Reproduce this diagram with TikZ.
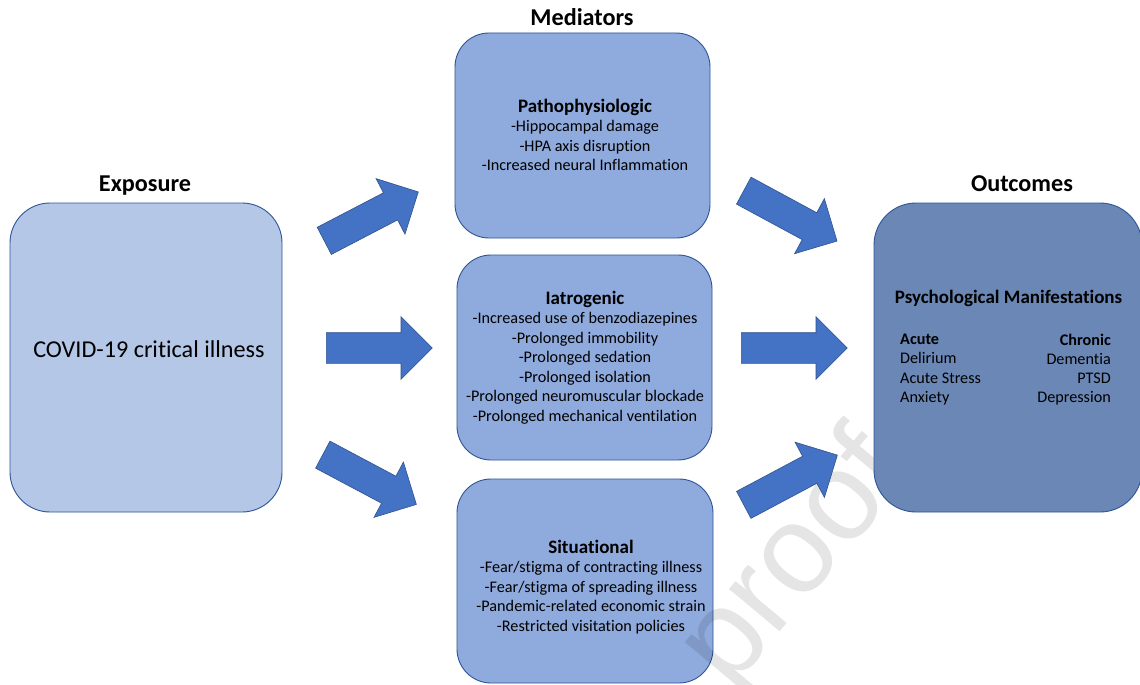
\documentclass[tikz,border=0pt]{standalone}
\usepackage{fontspec}
\setmainfont{Carlito}[Ligatures={NoCommon,NoContextual}]
\newfontfamily\wmfont{Liberation Sans}
\usetikzlibrary{shapes.arrows}
\definecolor{expfill}{HTML}{B4C7E7}
\definecolor{medfill}{HTML}{8FAADC}
\definecolor{outfill}{HTML}{6A87B6}
\definecolor{boxline}{HTML}{2F5597}
\definecolor{arrfill}{HTML}{4472C4}
\definecolor{arrline}{HTML}{2F528F}
\begin{document}
\begin{tikzpicture}[x=1pt,y=-1pt,
  box/.style={draw=boxline, line width=0.9pt, rounded corners=#1, inner sep=0pt},
  title/.style={font=\fontsize{24.2}{29}\selectfont\bfseries},
  body/.style={align=center, font=\fontsize{16.2}{19.5}\selectfont, inner sep=0pt},
  col/.style={font=\fontsize{16.2}{19.2}\selectfont, inner sep=0pt},
  head/.style={font=\fontsize{19}{22}\selectfont\bfseries},
  blockarrow/.style={single arrow, draw=arrline, fill=arrfill, line width=0.6pt,
    minimum height=106pt, inner xsep=0pt, inner ysep=15pt,
    single arrow head extend=16pt, anchor=tail}
]
\useasboundingbox (0,0) rectangle (1140,685);
\fill[white] (0,0) rectangle (1140,685);

% boxes
\node[box=40pt, fill=expfill, minimum width=272pt, minimum height=309pt] (exp) at (146,357.5) {};
\node[box=34pt, fill=medfill, minimum width=255pt, minimum height=205pt] (path) at (582.5,135.5) {};
\node[box=34pt, fill=medfill, minimum width=255pt, minimum height=205pt] (iatro) at (584.5,357.5) {};
\node[box=34pt, fill=medfill, minimum width=256pt, minimum height=204pt] (situ) at (585,581) {};

% watermark (under the outcomes box)
\node[rotate=50, text=black, text opacity=0.1, font=\wmfont\fontsize{125}{125}\selectfont] (wm) at (797,562) {proof};

\node[box=42pt, fill=outfill, minimum width=268pt, minimum height=309pt] (out) at (1008,357.5) {};

% titles
\node[title] (texp) at (145,186) {Exposure};
\node[title] (tmed) at (582,17) {Mediators};
\node[title] (tout) at (1022,184) {Outcomes};

% box texts
\node[font=\fontsize{24.2}{29}\selectfont] (covid) at (149,349) {COVID-19 critical illness};
\node[body] (pathtxt) at (585,135) {{\fontsize{19}{22}\selectfont\bfseries Pathophysiologic}\\-Hippocampal damage\\-HPA axis disruption\\-Increased neural Inflammation};
\node[body] (iatrotxt) at (585,357.5) {{\fontsize{19}{22}\selectfont\bfseries Iatrogenic}\\-Increased use of benzodiazepines\\-Prolonged immobility\\-Prolonged sedation\\-Prolonged isolation\\-Prolonged neuromuscular blockade\\-Prolonged mechanical ventilation};
\node[body] (situtxt) at (591,587) {{\fontsize{19}{22}\selectfont\bfseries Situational}\\-Fear/stigma of contracting illness\\-Fear/stigma of spreading illness\\-Pandemic-related economic strain\\-Restricted visitation policies};
\node[head] (psy) at (1008.5,298) {Psychological Manifestations};
\node[col, align=left, anchor=west] (acute) at (900,369.5) {\textbf{Acute}\\Delirium\\Acute Stress\\Anxiety};
\node[col, align=right, anchor=east] (chronic) at (1111,369.5) {\textbf{Chronic}\\Dementia\\PTSD\\Depression};

% block arrows
\coordinate (t1) at (324,241);
\coordinate (t2) at (326,348);
\coordinate (t3) at (322.5,454.5);
\coordinate (t4) at (743.5,190.5);
\coordinate (t5) at (741,348);
\coordinate (t6) at (743.5,505);
\node[blockarrow, rotate=27.5] (a1) at (t1) {};
\node[blockarrow] (a2) at (t2) {};
\node[blockarrow, rotate=-28] (a3) at (t3) {};
\node[blockarrow, rotate=-28.4] (a4) at (t4) {};
\node[blockarrow] (a5) at (t5) {};
\node[blockarrow, rotate=28] (a6) at (t6) {};
\end{tikzpicture}
\end{document}
